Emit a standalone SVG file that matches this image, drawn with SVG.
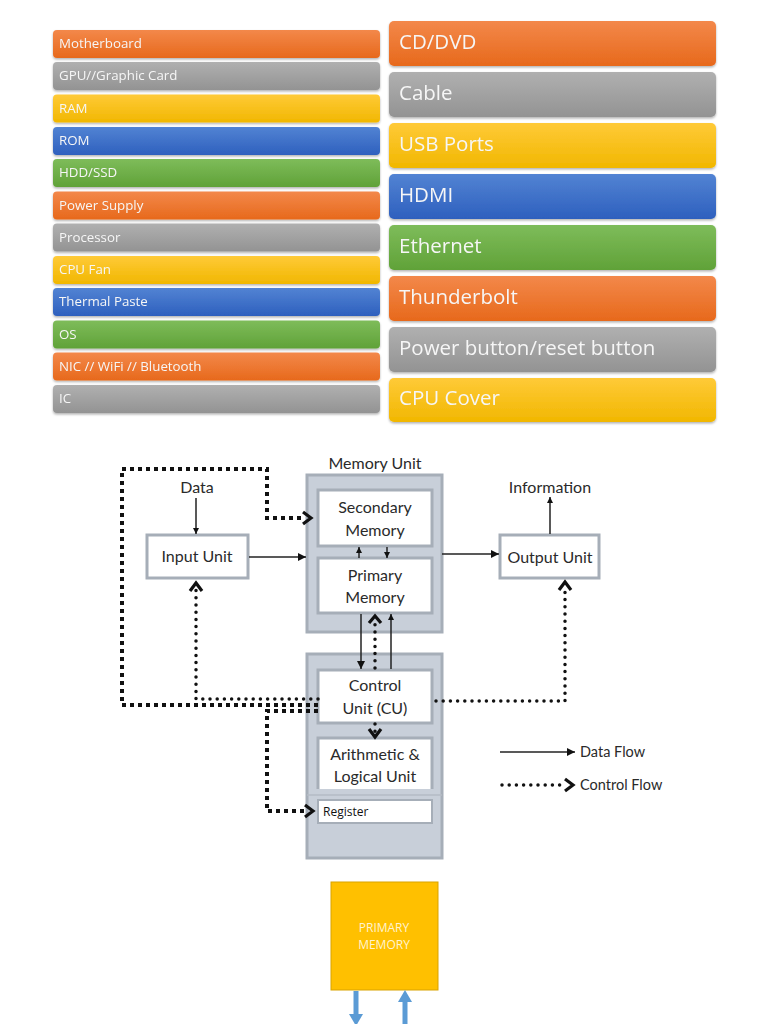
<svg xmlns="http://www.w3.org/2000/svg" width="768" height="1024" viewBox="0 0 768 1024">
<defs>
<linearGradient id="gO" x1="0" y1="0" x2="0" y2="1"><stop offset="0" stop-color="#F3884A"/><stop offset="1" stop-color="#E7691C"/></linearGradient>
<linearGradient id="gG" x1="0" y1="0" x2="0" y2="1"><stop offset="0" stop-color="#B0B0B0"/><stop offset="1" stop-color="#939393"/></linearGradient>
<linearGradient id="gY" x1="0" y1="0" x2="0" y2="1"><stop offset="0" stop-color="#FFCA38"/><stop offset="1" stop-color="#F1B700"/></linearGradient>
<linearGradient id="gB" x1="0" y1="0" x2="0" y2="1"><stop offset="0" stop-color="#5283D3"/><stop offset="1" stop-color="#2E60BE"/></linearGradient>
<linearGradient id="gN" x1="0" y1="0" x2="0" y2="1"><stop offset="0" stop-color="#7EBC5A"/><stop offset="1" stop-color="#60A238"/></linearGradient>
<filter id="sh" x="-5%" y="-20%" width="110%" height="150%"><feDropShadow dx="0" dy="1.5" stdDeviation="1.2" flood-color="#000" flood-opacity="0.3"/></filter>
<marker id="ah" markerWidth="10" markerHeight="10" refX="8" refY="5" orient="auto" markerUnits="userSpaceOnUse"><path d="M0,1 L8,5 L0,9 Z" fill="#111"/></marker>
<marker id="ahs" markerWidth="8" markerHeight="8" refX="6" refY="4" orient="auto" markerUnits="userSpaceOnUse"><path d="M0,1 L6,4 L0,7 Z" fill="#111"/></marker>
</defs>
<style>
.lt{font-family:"Open Sans","Noto Sans","DejaVu Sans",sans-serif;font-size:13.3px;fill:#F6F6F6}
.rt{font-family:"Open Sans","Noto Sans","DejaVu Sans",sans-serif;font-size:20.5px;fill:#F6F6F6}
.frame{fill:#C8CFD9;stroke:#A6AEB8;stroke-width:3}
.box{fill:#fff;stroke:#A6AEB8;stroke-width:3}
.dt{font-family:"Lato","Noto Sans","DejaVu Sans",sans-serif;font-size:16px;fill:#2a2a2a;text-anchor:middle}
.lg{font-family:"Lato","Noto Sans","DejaVu Sans",sans-serif;font-size:14.5px;fill:#2a2a2a}
.data{fill:none;stroke:#222;stroke-width:1.5}
.dots{fill:none;stroke:#111;stroke-width:3.5;stroke-dasharray:0 7.2;stroke-linecap:round}
.sq{fill:none;stroke:#111;stroke-width:4;stroke-dasharray:4 4}
.chev{fill:none;stroke:#111;stroke-width:3.2}
</style>
<rect width="768" height="1024" fill="#fff"/>

<g id="left-list" filter="url(#sh)">
<g id="n-motherboard"><rect x="53" y="30" width="327" height="28" rx="4" fill="url(#gO)"/><text class="lt" x="59" y="48">Motherboard</text></g>
<g id="n-gpu"><rect x="53" y="62" width="327" height="28" rx="4" fill="url(#gG)"/><text class="lt" x="59" y="80">GPU//Graphic Card</text></g>
<g id="n-ram"><rect x="53" y="94.5" width="327" height="28" rx="4" fill="url(#gY)"/><text class="lt" x="59" y="112.5">RAM</text></g>
<g id="n-rom"><rect x="53" y="127" width="327" height="28" rx="4" fill="url(#gB)"/><text class="lt" x="59" y="145">ROM</text></g>
<g id="n-hdd"><rect x="53" y="159" width="327" height="28" rx="4" fill="url(#gN)"/><text class="lt" x="59" y="177">HDD/SSD</text></g>
<g id="n-psu"><rect x="53" y="191.5" width="327" height="28" rx="4" fill="url(#gO)"/><text class="lt" x="59" y="209.5">Power Supply</text></g>
<g id="n-processor"><rect x="53" y="223.5" width="327" height="28" rx="4" fill="url(#gG)"/><text class="lt" x="59" y="241.5">Processor</text></g>
<g id="n-cpufan"><rect x="53" y="256" width="327" height="28" rx="4" fill="url(#gY)"/><text class="lt" x="59" y="274">CPU Fan</text></g>
<g id="n-thermal"><rect x="53" y="288" width="327" height="28" rx="4" fill="url(#gB)"/><text class="lt" x="59" y="306">Thermal Paste</text></g>
<g id="n-os"><rect x="53" y="320.5" width="327" height="28" rx="4" fill="url(#gN)"/><text class="lt" x="59" y="338.5">OS</text></g>
<g id="n-nic"><rect x="53" y="352.5" width="327" height="28" rx="4" fill="url(#gO)"/><text class="lt" x="59" y="370.5">NIC // WiFi // Bluetooth</text></g>
<g id="n-ic"><rect x="53" y="385" width="327" height="28" rx="4" fill="url(#gG)"/><text class="lt" x="59" y="403">IC</text></g>
</g>

<g id="right-list" filter="url(#sh)">
<g id="n-cddvd"><rect x="389" y="21" width="327" height="45" rx="5" fill="url(#gO)"/><text class="rt" x="399" y="49">CD/DVD</text></g>
<g id="n-cable"><rect x="389" y="72" width="327" height="45" rx="5" fill="url(#gG)"/><text class="rt" x="399" y="100">Cable</text></g>
<g id="n-usb"><rect x="389" y="123" width="327" height="45" rx="5" fill="url(#gY)"/><text class="rt" x="399" y="151">USB Ports</text></g>
<g id="n-hdmi"><rect x="389" y="174" width="327" height="45" rx="5" fill="url(#gB)"/><text class="rt" x="399" y="202">HDMI</text></g>
<g id="n-ethernet"><rect x="389" y="225" width="327" height="45" rx="5" fill="url(#gN)"/><text class="rt" x="399" y="253">Ethernet</text></g>
<g id="n-thunderbolt"><rect x="389" y="276" width="327" height="45" rx="5" fill="url(#gO)"/><text class="rt" x="399" y="304">Thunderbolt</text></g>
<g id="n-power"><rect x="389" y="327" width="327" height="45" rx="5" fill="url(#gG)"/><text class="rt" x="399" y="355">Power button/reset button</text></g>
<g id="n-cpucover"><rect x="389" y="378" width="327" height="44" rx="5" fill="url(#gY)"/><text class="rt" x="399" y="405">CPU Cover</text></g>
</g>

<g id="memory-unit">
<text class="dt" x="375" y="469">Memory Unit</text>
<rect class="frame" x="307" y="475" width="135" height="157"/>
</g>
<g id="secondary-memory"><rect class="box" x="318" y="490" width="114" height="56"/><text class="dt" x="375" y="513">Secondary</text><text class="dt" x="375" y="536">Memory</text></g>
<g id="primary-memory"><rect class="box" x="318" y="558" width="114" height="55"/><text class="dt" x="375" y="581">Primary</text><text class="dt" x="375" y="603">Memory</text></g>
<g id="input-unit"><rect class="box" x="147" y="535" width="101" height="43"/><text class="dt" x="197" y="562">Input Unit</text></g>
<g id="output-unit"><rect class="box" x="500" y="535" width="99" height="43"/><text class="dt" x="550" y="563">Output Unit</text></g>
<g id="data-label"><text class="dt" x="197" y="493">Data</text></g>
<g id="information-label"><text class="dt" x="550" y="493">Information</text></g>

<g id="cpu">
<rect class="frame" x="307" y="654" width="135" height="204"/>
<line x1="307" y1="795" x2="442" y2="795" stroke="#B4BBC5" stroke-width="1.5"/>
</g>
<g id="control-unit"><rect class="box" x="318" y="670" width="114" height="53"/><text class="dt" x="375" y="691">Control</text><text class="dt" x="375" y="714">Unit (CU)</text></g>
<g id="alu"><path d="M318,789 V738 H432 V789" fill="#fff" stroke="#A6AEB8" stroke-width="3"/><text class="dt" x="375" y="760">Arithmetic &amp;</text><text class="dt" x="375" y="782">Logical Unit</text></g>
<g id="register"><rect x="318" y="800" width="114" height="23" fill="#fff" stroke="#A6AEB8" stroke-width="2"/><text x="323" y="816" font-family="'Open Sans','Noto Sans',sans-serif" font-size="12" fill="#111">Register</text></g>

<g id="legend">
<line class="data" x1="500" y1="752" x2="575" y2="752" marker-end="url(#ah)"/>
<text class="lg" x="580" y="757">Data Flow</text>
<line class="dots" x1="502" y1="785" x2="566" y2="785"/>
<polyline class="chev" points="565,779 573,785 565,791"/>
<text class="lg" x="580" y="790">Control Flow</text>
</g>

<g id="connectors">
<line class="data" x1="196" y1="498" x2="196" y2="534" marker-end="url(#ahs)"/>
<line class="data" x1="249" y1="557" x2="306" y2="557" marker-end="url(#ah)"/>
<line class="data" x1="442" y1="554" x2="499" y2="554" marker-end="url(#ah)"/>
<line class="data" x1="550" y1="534" x2="550" y2="497" marker-end="url(#ahs)"/>
<line class="data" x1="359" y1="558" x2="359" y2="547" marker-end="url(#ahs)"/>
<line class="data" x1="387" y1="547" x2="387" y2="558" marker-end="url(#ahs)"/>
<line class="data" x1="361" y1="614" x2="361" y2="669" marker-end="url(#ah)"/>
<line class="data" x1="391" y1="669" x2="391" y2="614" marker-end="url(#ahs)"/>

<path class="sq" d="M318,705 H122 V469 H267 V518 H304"/>
<polyline class="chev" points="303,512 311,518 303,524"/>
<path class="dots" d="M318,699 H196 V590"/>
<polyline class="chev" points="190,591 196,583 202,591"/>
<path class="sq" d="M318,711 H267 V811 H305"/>
<polyline class="chev" points="305,805 313,811 305,817"/>
<path class="dots" d="M375,668 V624"/>
<polyline class="chev" points="369,623 375,616 381,623"/>
<path class="dots" d="M436,701 H565 V588"/>
<polyline class="chev" points="559,590 565,582 571,590"/>
<path class="dots" d="M375,724 V732"/>
<polyline class="chev" points="369,729 375,737 381,729"/>
</g>

<g id="primary-memory-block">
<rect x="331" y="882" width="107" height="108" fill="#FFC000" stroke="#D9A300" stroke-width="1"/>
<text x="384" y="932" font-family="'Open Sans','Noto Sans',sans-serif" font-size="12" fill="#FFF3D0" text-anchor="middle">PRIMARY</text>
<text x="384" y="949" font-family="'Open Sans','Noto Sans',sans-serif" font-size="12" fill="#FFF3D0" text-anchor="middle">MEMORY</text>
</g>
<g id="blue-arrows">
<line x1="356" y1="991" x2="356" y2="1016" stroke="#5B9BD5" stroke-width="5"/>
<path d="M349,1014 L356,1026 L363,1014 Z" fill="#5B9BD5"/>
<line x1="405" y1="1024" x2="405" y2="1000" stroke="#5B9BD5" stroke-width="5"/>
<path d="M398,1002 L405,990 L412,1002 Z" fill="#5B9BD5"/>
</g>
</svg>
